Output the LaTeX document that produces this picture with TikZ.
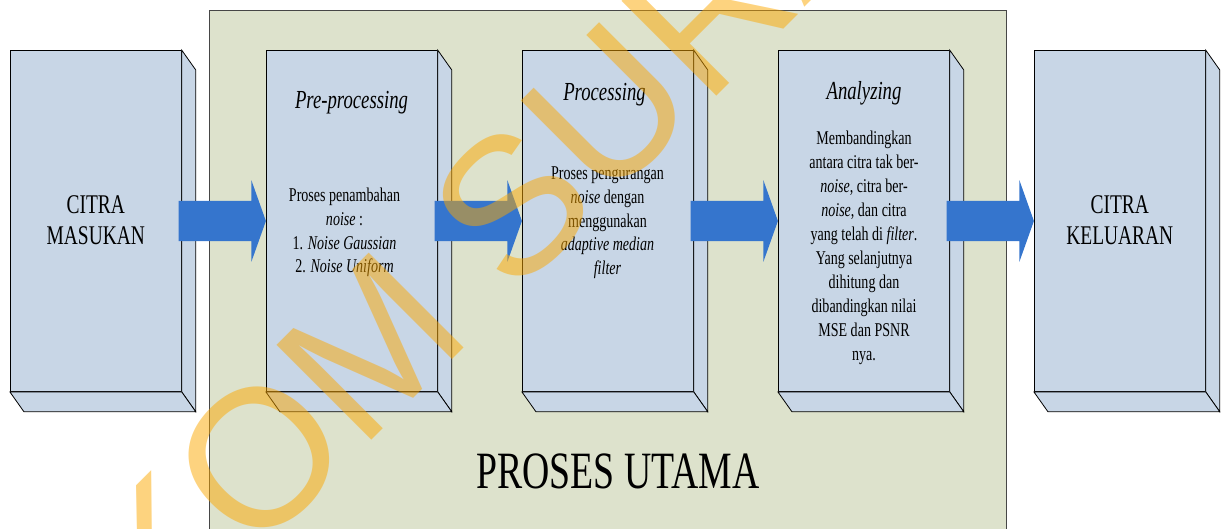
\documentclass[tikz,border=0pt]{standalone}
\usepackage{fontspec}
\setmainfont[FakeStretch=0.72]{Liberation Serif}
\newfontfamily\wmfont{Liberation Sans}
\usetikzlibrary{calc}
\definecolor{boxfill}{RGB}{200,214,230}
\definecolor{bgfill}{RGB}{221,226,204}
\definecolor{arrowblue}{RGB}{53,117,205}
\definecolor{wmorange}{RGB}{251,167,0}
\definecolor{frameline}{RGB}{70,70,70}
\begin{document}
\begin{tikzpicture}[x=1pt,y=1pt,
  mainbg/.style={draw=frameline, line width=0.8pt, fill=bgfill},
  frontbox/.style={draw=black, line width=0.8pt, fill=boxfill, minimum width=171pt, minimum height=341pt, inner sep=0pt},
  depthface/.style={draw=black, line width=0.8pt, fill=boxfill, line join=miter},
  flowarrow/.style={fill=arrowblue, draw=none},
  bigtxt/.style={align=center, anchor=base, inner sep=0pt, font=\fontsize{27}{31}\selectfont},
  titletxt/.style={anchor=base, inner sep=0pt, font=\fontsize{26}{30}\selectfont\itshape},
  bodytxt/.style={align=center, anchor=base, inner sep=0pt, font=\fontsize{19.5}{23.7}\selectfont},
  wmtxt/.style={anchor=base west, rotate=45, inner sep=0pt, text=wmorange, text opacity=0.5, font=\wmfont\fontsize{195}{195}\selectfont}
]
\useasboundingbox (0,0) rectangle (1222,528);
% main process area
\path[mainbg] (209.5,-5) rectangle (1006.5,517.9);
% boxes
\foreach \n/\cx in {b1/95.8, b2/351.8, b3/607.8, b4/863.8, b5/1119.8} {
  \node[frontbox] (\n) at (\cx,307) {};
  \path[depthface] (\n.north east) -- ++(14,-19.8) -- ($(\n.south east)+(14,-19.8)$) -- (\n.south east) -- cycle;
  \path[depthface] (\n.south west) -- ++(14,-19.8) -- ($(\n.south east)+(14,-19.8)$) -- (\n.south east) -- cycle;
}
% arrows
\foreach \a/\b in {b1/b2, b2/b3, b3/b4, b4/b5} {
  \fill[flowarrow] ($(\a.east)+(-3,-20.2)$) -- ($(\b.west)+(-14.5,-20.2)$) -- ($(\b.west)+(-14.5,-40.75)$) -- (\b.west) -- ($(\b.west)+(-14.5,40.75)$) -- ($(\b.west)+(-14.5,20.2)$) -- ($(\a.east)+(-3,20.2)$) -- cycle;
}
% texts (multi-line nodes are anchored at the baseline of their last line)
\node[bigtxt] (t1) at (95.8,283.2) {CITRA\\MASUKAN};
\node[bigtxt] (t5) at (1119.8,283.2) {CITRA\\KELUARAN};
\node[titletxt] (h2) at (351.5,419.6) {Pre-processing};
\node[titletxt] (h3) at (604.5,427) {Processing};
\node[titletxt] (h4) at (864,428.7) {Analyzing};
\node[bodytxt] (d2) at (344.5,255.3) {Proses penambahan\\\textit{noise} :\\1. \textit{Noise Gaussian}\\2. \textit{Noise Uniform}};
\node[bodytxt] (d3) at (607.5,253.6) {Proses pengurangan\\\textit{noise} dengan\\menggunakan\\\textit{adaptive median}\\\textit{filter}};
\node[bodytxt, font=\fontsize{19.5}{24}\selectfont] (d4) at (864,167.7) {Membandingkan\\antara citra tak ber-\\\textit{noise}, citra ber-\\\textit{noise}, dan citra\\yang telah di \textit{filter}.\\Yang selanjutnya\\dihitung dan\\dibandingkan nilai\\MSE dan PSNR\\nya.};
\node[anchor=base, inner sep=0pt, font=\fontsize{52.4}{56}\selectfont] (utama) at (618,39.8) {PROSES UTAMA};
% watermark
\begin{scope}
  \clip (0,0) rectangle (1222,528);
  \node[wmtxt] (wm) at (-53.3,-337.6) {STIKOM SURABAYA};
\end{scope}
\end{tikzpicture}
\end{document}
